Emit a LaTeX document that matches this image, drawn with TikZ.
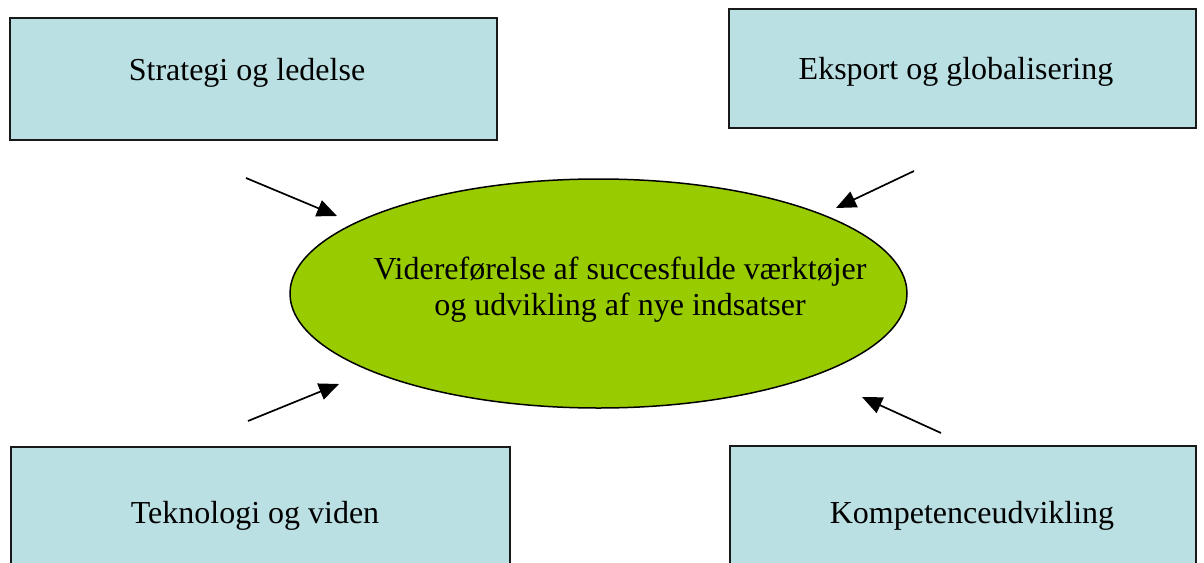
\documentclass[tikz,border=0pt]{standalone}
\usepackage{fontspec}
\setmainfont{Liberation Serif}
\usetikzlibrary{shapes.geometric,arrows.meta}
\definecolor{boxfill}{HTML}{BAE0E3}
\definecolor{ellgreen}{HTML}{99CC00}
\tikzset{
  topicbox/.style={draw=black!90,line width=1.5pt,fill=boxfill,rectangle,inner sep=0pt},
  topictext/.style={anchor=base,inner sep=0pt,font=\fontsize{32}{36}\selectfont},
  centreell/.style={draw=black,line width=1.5pt,fill=ellgreen,ellipse,inner sep=0pt},
  inarrow/.style={line width=1.7pt,-{Triangle[length=20pt,width=17pt]}}
}
\begin{document}
\begin{tikzpicture}[x=1pt,y=-1pt]
\clip (0,0) rectangle (1204,562);
\fill[white] (0,0) rectangle (1204,562);
% boxes
\node[topicbox,minimum width=487pt,minimum height=122pt] (tl) at (253.5,79) {};
\node[topicbox,minimum width=467pt,minimum height=119pt] (tr) at (962.5,68.5) {};
\node[topicbox,minimum width=499pt,minimum height=143pt] (bl) at (260.5,518.5) {};
\node[topicbox,minimum width=466pt,minimum height=144pt] (br) at (963,518) {};
\node[topictext] (tltext) at (247,80) {Strategi og ledelse};
\node[topictext] (trtext) at (956,79) {Eksport og globalisering};
\node[topictext] (bltext) at (255,523) {Teknologi og viden};
\node[topictext] (brtext) at (972,523) {Kompetenceudvikling};
% ellipse
\node[centreell,minimum width=617pt,minimum height=229pt] (ell) at (598.5,293.5) {};
\node[inner sep=0pt,align=center,font=\fontsize{32}{36}\selectfont] (elltext) at (620,289.5) {Videreførelse af succesfulde værktøjer\\og udvikling af nye indsatser};
% arrows
\coordinate (t1) at (246,178); \coordinate (h1) at (337,216);
\coordinate (t2) at (914,171); \coordinate (h2) at (836,208);
\coordinate (t3) at (248,421); \coordinate (h3) at (339,384);
\coordinate (t4) at (941,433); \coordinate (h4) at (862,397);
\draw[inarrow] (t1) -- (h1);
\draw[inarrow] (t2) -- (h2);
\draw[inarrow] (t3) -- (h3);
\draw[inarrow] (t4) -- (h4);
\end{tikzpicture}
\end{document}
